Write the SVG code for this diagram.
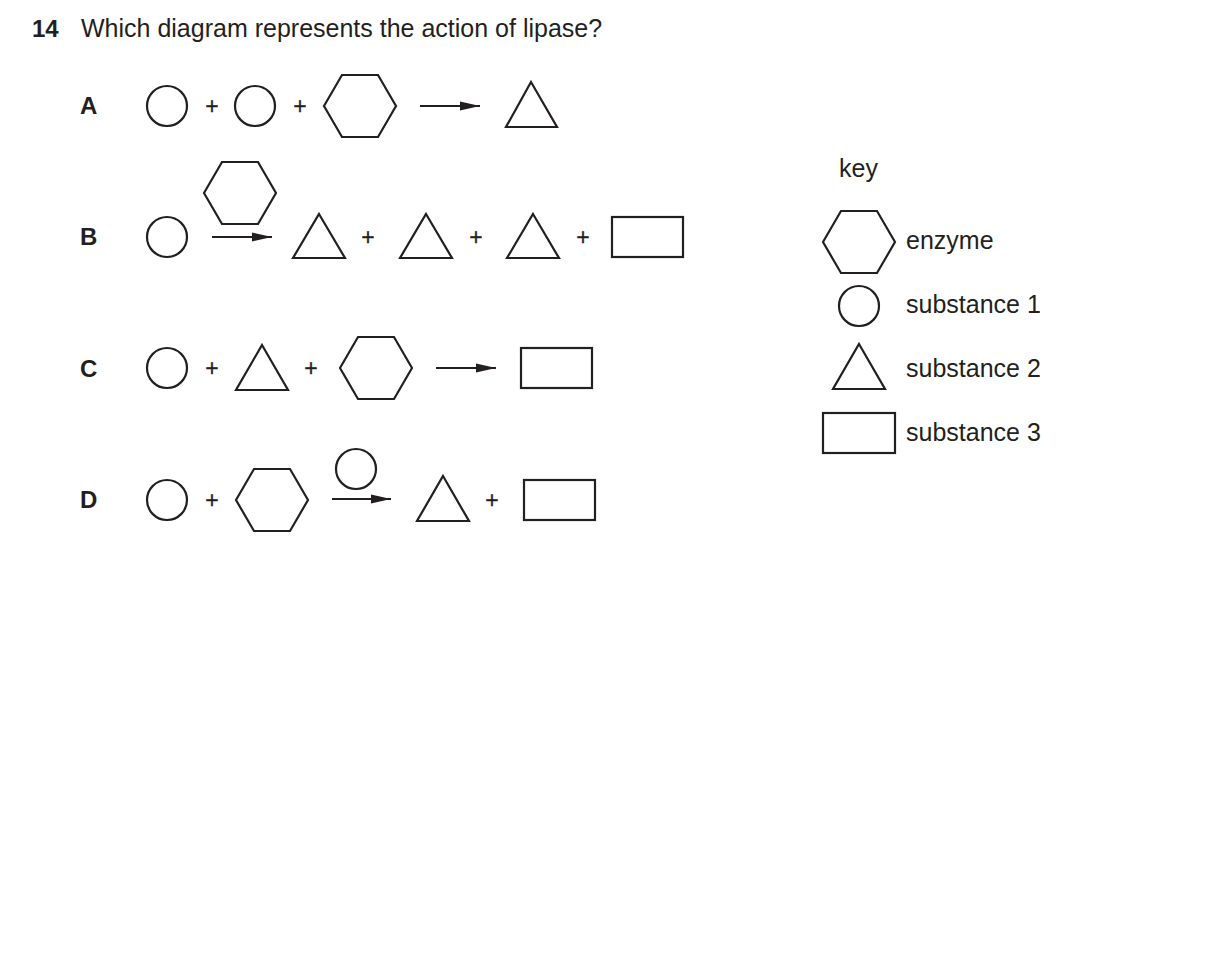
<svg xmlns="http://www.w3.org/2000/svg" width="1209" height="963" viewBox="0 0 1209 963">
<style>
.s{fill:none;stroke:#231f20;stroke-width:2.2;stroke-linejoin:miter}
.t{font-family:"Liberation Sans",Arial,sans-serif;font-size:25px;fill:#231f20}
.b{font-family:"Liberation Sans",Arial,sans-serif;font-size:24px;font-weight:bold;fill:#231f20}
.p{font-family:"Liberation Sans",Arial,sans-serif;font-size:23px;fill:#231f20;text-anchor:middle;stroke:#231f20;stroke-width:0.3}
.ln{stroke:#231f20;stroke-width:2.2;fill:none}
</style>
<defs>
<marker id="ah" markerWidth="20" markerHeight="10" refX="20" refY="5" orient="auto" markerUnits="userSpaceOnUse">
<path d="M0,0.5 L20,5 L0,9.5 Z" fill="#231f20"/>
</marker>
</defs>
<rect width="1209" height="963" fill="#fff"/>
<g id="title">
<text class="b" x="32" y="37">14</text>
<text class="t" x="81" y="37">Which diagram represents the action of lipase?</text>
</g>
<g id="rowA">
<text class="b" x="80" y="114">A</text>
<circle class="s" cx="167" cy="106" r="20"/>
<text class="p" x="212" y="114">+</text>
<circle class="s" cx="255" cy="106" r="20"/>
<text class="p" x="300" y="114">+</text>
<polygon class="s" points="324,106 342,75 378,75 396,106 378,137 342,137"/>
<polygon class="s" points="531,82 557,127 506,127"/>
</g>
<g id="rowB">
<text class="b" x="80" y="245">B</text>
<circle class="s" cx="167" cy="237" r="20"/>
<polygon class="s" points="204,193 222,162 258,162 276,193 258,224 222,224"/>
<polygon class="s" points="319,214 345,258 293,258"/>
<text class="p" x="368" y="245">+</text>
<polygon class="s" points="426,214 452,258 400,258"/>
<text class="p" x="476" y="245">+</text>
<polygon class="s" points="533,214 559,258 507,258"/>
<text class="p" x="583" y="245">+</text>
<rect class="s" x="612" y="217" width="71" height="40"/>
</g>
<g id="rowC">
<text class="b" x="80" y="377">C</text>
<circle class="s" cx="167" cy="368" r="20"/>
<text class="p" x="212" y="376">+</text>
<polygon class="s" points="262,345 288,390 236,390"/>
<text class="p" x="311" y="376">+</text>
<polygon class="s" points="340,368 358,337 394,337 412,368 394,399 358,399"/>
<rect class="s" x="521" y="348" width="71" height="40"/>
</g>
<g id="rowD">
<text class="b" x="80" y="508">D</text>
<circle class="s" cx="167" cy="500" r="20"/>
<text class="p" x="212" y="508">+</text>
<polygon class="s" points="236,500 254,469 290,469 308,500 290,531 254,531"/>
<circle class="s" cx="356" cy="469" r="20"/>
<polygon class="s" points="443,476 469,521 417,521"/>
<text class="p" x="492" y="508">+</text>
<rect class="s" x="524" y="480" width="71" height="40"/>
</g>
<g id="connectors">
<line class="ln" x1="420" y1="106" x2="480" y2="106" marker-end="url(#ah)"/>
<line class="ln" x1="212" y1="237" x2="272" y2="237" marker-end="url(#ah)"/>
<line class="ln" x1="436" y1="368" x2="496" y2="368" marker-end="url(#ah)"/>
<line class="ln" x1="332" y1="499" x2="391" y2="499" marker-end="url(#ah)"/>
</g>
<g id="key">
<text class="t" x="839" y="177">key</text>
<polygon class="s" points="823,242 841,211 877,211 895,242 877,273 841,273"/>
<text class="t" x="906" y="249">enzyme</text>
<circle class="s" cx="859" cy="306" r="20"/>
<text class="t" x="906" y="313">substance 1</text>
<polygon class="s" points="859,344 885,389 833,389"/>
<text class="t" x="906" y="377">substance 2</text>
<rect class="s" x="823" y="413" width="72" height="40"/>
<text class="t" x="906" y="441">substance 3</text>
</g>
</svg>
